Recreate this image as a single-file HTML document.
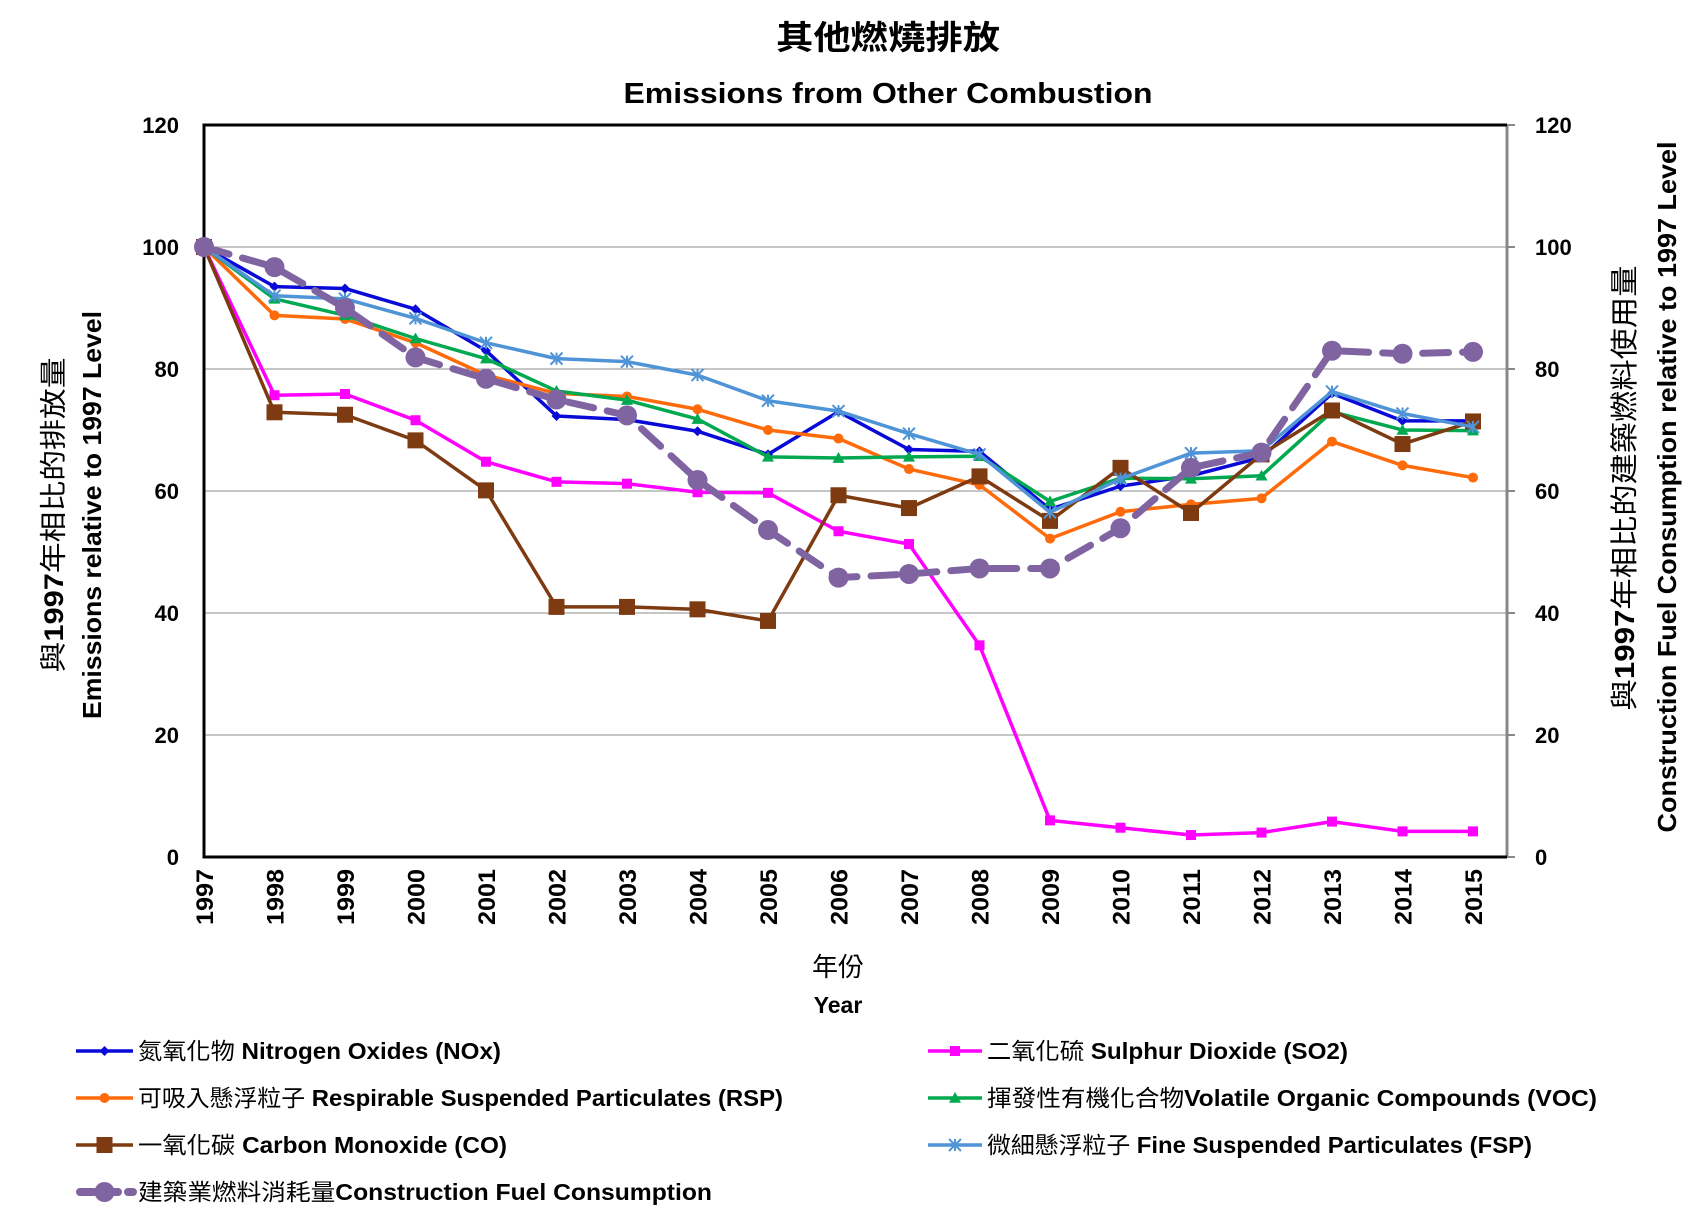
<!DOCTYPE html>
<html><head><meta charset="utf-8"><style>
html,body{margin:0;padding:0;background:#fff;}
svg{display:block;}
text{font-family:"Liberation Sans","Noto Sans CJK TC",sans-serif;}
</style></head><body>
<svg id="c" width="1702" height="1219" viewBox="0 0 1702 1219" xmlns="http://www.w3.org/2000/svg">
<text x="888" y="49" text-anchor="middle" font-size="33" font-weight="bold" textLength="224" lengthAdjust="spacingAndGlyphs">其他燃燒排放</text>
<text x="888" y="103" text-anchor="middle" font-size="29" font-weight="bold" textLength="529" lengthAdjust="spacingAndGlyphs">Emissions from Other Combustion</text>
<g id="grid"></g>
<g font-size="22" font-weight="bold" text-anchor="end" id="yl">
<text x="179" y="133">120</text><text x="179" y="255">100</text><text x="179" y="377">80</text><text x="179" y="499">60</text><text x="179" y="621">40</text><text x="179" y="743">20</text><text x="179" y="865">0</text>
</g>
<g font-size="22" font-weight="bold" id="yr">
<text x="1535" y="133">120</text><text x="1535" y="255">100</text><text x="1535" y="377">80</text><text x="1535" y="499">60</text><text x="1535" y="621">40</text><text x="1535" y="743">20</text><text x="1535" y="865">0</text>
</g>
<g id="xl" font-size="24" font-weight="bold"></g>
<text x="838" y="976" text-anchor="middle" font-size="26">年份</text>
<text x="838" y="1013" text-anchor="middle" font-size="23" font-weight="bold">Year</text>
<text transform="translate(63,515) rotate(-90)" text-anchor="middle" font-size="27" textLength="315" lengthAdjust="spacingAndGlyphs">與<tspan font-weight="bold">1997</tspan>年相比的排放量</text>
<text transform="translate(101,515) rotate(-90)" text-anchor="middle" font-size="26" font-weight="bold" textLength="408" lengthAdjust="spacingAndGlyphs">Emissions relative to 1997 Level</text>
<text transform="translate(1634,488) rotate(-90)" text-anchor="middle" font-size="28" textLength="445" lengthAdjust="spacingAndGlyphs">與<tspan font-weight="bold">1997</tspan>年相比的建築燃料使用量</text>
<text transform="translate(1676,487) rotate(-90)" text-anchor="middle" font-size="26" font-weight="bold" textLength="691" lengthAdjust="spacingAndGlyphs">Construction Fuel Consumption relative to 1997 Level</text>
<g id="series"></g>
<g id="leg"></g>
<g font-size="23">
<text x="138" y="1059" textLength="363" lengthAdjust="spacingAndGlyphs">氮氧化物 <tspan font-weight="bold">Nitrogen Oxides (NOx)</tspan></text>
<text x="138" y="1106" textLength="645" lengthAdjust="spacingAndGlyphs">可吸入懸浮粒子 <tspan font-weight="bold">Respirable Suspended Particulates (RSP)</tspan></text>
<text x="138" y="1153" textLength="369" lengthAdjust="spacingAndGlyphs">一氧化碳 <tspan font-weight="bold">Carbon Monoxide (CO)</tspan></text>
<text x="138" y="1200" textLength="574" lengthAdjust="spacingAndGlyphs">建築業燃料消耗量<tspan font-weight="bold">Construction Fuel Consumption</tspan></text>
<text x="987" y="1059" textLength="361" lengthAdjust="spacingAndGlyphs">二氧化硫 <tspan font-weight="bold">Sulphur Dioxide (SO2)</tspan></text>
<text x="987" y="1106" textLength="610" lengthAdjust="spacingAndGlyphs">揮發性有機化合物<tspan font-weight="bold">Volatile Organic Compounds (VOC)</tspan></text>
<text x="987" y="1153" textLength="545" lengthAdjust="spacingAndGlyphs">微細懸浮粒子 <tspan font-weight="bold">Fine Suspended Particulates (FSP)</tspan></text>
</g>
</svg>
<script>
var NS="http://www.w3.org/2000/svg";
function el(t,a,p){var e=document.createElementNS(NS,t);for(var k in a)e.setAttribute(k,a[k]);(p||document.getElementById('series')).appendChild(e);return e;}
var L=204,R=1507,T=125,B=857,step=(1473-204)/18;
function X(i){return L+i*step;} function Y(v){return B-v*6.1;}
var g=document.getElementById('grid');
for(var v=20;v<=100;v+=20)el('line',{x1:L,x2:R,y1:Y(v),y2:Y(v),stroke:'#8c8c8c','stroke-width':1},g);
el('line',{x1:R,x2:R,y1:T,y2:B,stroke:'#888','stroke-width':3},g);
for(var v=0;v<=120;v+=20)el('line',{x1:R,x2:R+8,y1:Y(v),y2:Y(v),stroke:'#888','stroke-width':2},g);
el('path',{d:'M'+R+' '+T+'H'+L+'V'+B+'H'+R,fill:'none',stroke:'#000','stroke-width':3},g);
var xl=document.getElementById('xl');
for(var i=0;i<19;i++){var t=el('text',{transform:'translate('+(X(i)+9)+',869) rotate(-90)','text-anchor':'end',textLength:'56',lengthAdjust:'spacingAndGlyphs'},xl);t.textContent=1997+i;}
var S=[
{c:'#0a0ad8',m:'d',s:5,d:[100,93.5,93.2,89.8,83,72.3,71.7,69.8,66,73,66.8,66.5,57,60.8,62.5,65.5,76,71.5,71.5]},
{c:'#ff00ff',m:'s',s:5,d:[100,75.7,75.9,71.6,64.8,61.5,61.2,59.8,59.7,53.4,51.3,34.7,6,4.8,3.6,4,5.8,4.2,4.2]},
{c:'#ff6a0a',m:'c',s:5,d:[100,88.8,88.2,84.3,79,76,75.5,73.4,70,68.6,63.6,61,52.2,56.6,57.8,58.8,68.1,64.2,62.2]},
{c:'#00a84f',m:'t',s:6,d:[100,91.5,88.8,85,81.7,76.4,74.9,71.8,65.6,65.4,65.6,65.7,58.3,62.1,62,62.5,73,70,69.9]},
{c:'#7e3a10',m:'s',s:8,d:[100,72.9,72.5,68.3,60.1,41,41,40.6,38.7,59.3,57.2,62.4,55.1,63.8,56.4,66,73.2,67.7,71.4]},
{c:'#4f94d6',m:'x',s:6,d:[100,92,91.5,88.3,84.3,81.7,81.2,79,74.8,73.1,69.4,66,56.5,62,66.2,66.6,76.3,72.7,70.5]},
{c:'#8064a2',m:'c',s:10,dash:1,d:[100,96.7,90,81.9,78.4,75,72.4,61.8,53.6,45.8,46.4,47.3,47.3,53.9,63.8,66.3,83,82.5,82.8]}];
function mark(m,x,y,s,c,p){
 if(m=='d')el('path',{d:'M'+x+' '+(y-s)+'L'+(x+s)+' '+y+'L'+x+' '+(y+s)+'L'+(x-s)+' '+y+'Z',fill:c},p);
 else if(m=='s')el('rect',{x:x-s,y:y-s,width:2*s,height:2*s,fill:c},p);
 else if(m=='c')el('circle',{cx:x,cy:y,r:s,fill:c},p);
 else if(m=='t')el('path',{d:'M'+x+' '+(y-s)+'L'+(x+s)+' '+(y+s*0.8)+'L'+(x-s)+' '+(y+s*0.8)+'Z',fill:c},p);
 else if(m=='x')el('path',{d:'M'+(x-s)+' '+(y-s)+'L'+(x+s)+' '+(y+s)+'M'+(x-s)+' '+(y+s)+'L'+(x+s)+' '+(y-s)+'M'+x+' '+(y-s)+'V'+(y+s),stroke:c,'stroke-width':2},p);
}
var legPos=[[76,1051],[928,1051],[76,1098],[928,1098],[76,1145],[928,1145],[76,1192]];
var lg=document.getElementById('leg');
S.forEach(function(s,k){
 var pts=s.d.map(function(v,i){return X(i)+','+Y(v);}).join(' ');
 var a={points:pts,fill:'none',stroke:s.c,'stroke-width':s.dash?7:3.5,'stroke-linejoin':'round'};
 if(s.dash){a['stroke-dasharray']='26 14';a['stroke-linecap']='round';}
 el('polyline',a);
 s.d.forEach(function(v,i){mark(s.m,X(i),Y(v),s.s,s.c);});
 var p=legPos[k],w=k%2?54:57;
 var la={x1:p[0],x2:p[0]+w,y1:p[1],y2:p[1],stroke:s.c,'stroke-width':s.dash?8:3.5};
 if(s.dash){la['stroke-linecap']='round';la['stroke-dasharray']='14 10';la.x1=p[0]+4;}
 el('line',la,lg);
 mark(s.m,p[0]+w/2,p[1],s.s,s.c,lg);
});
</script>
</body></html>
